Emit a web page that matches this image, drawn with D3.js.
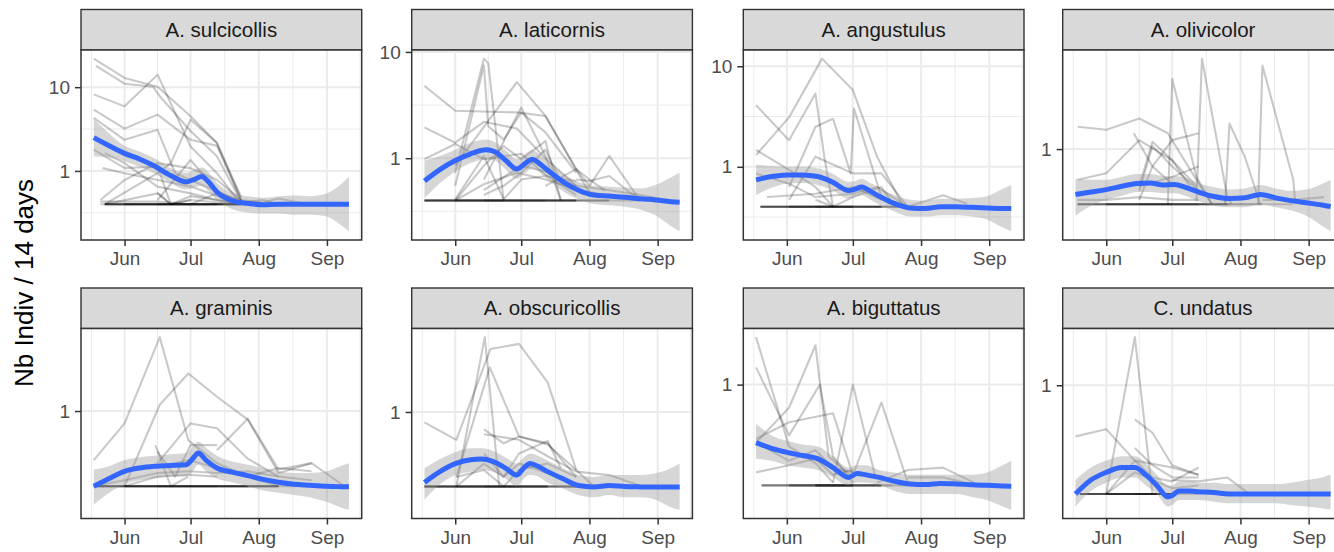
<!DOCTYPE html>
<html>
<head>
<meta charset="utf-8">
<script src="https://cdn.jsdelivr.net/npm/d3@7"></script>
<style>
  html, body { margin: 0; padding: 0; background: #fff; }
  svg { display: block; font-family: "Liberation Sans", Arial, Helvetica, sans-serif; }
</style>
</head>
<body>
<svg id="chart" width="1334" height="552"></svg>
<script>
// ---- Data ------------------------------------------------------------
// Days are day-of-year (2019); values are individuals per 14 days.
// Zero catches are plotted at the floor value 0.4.

const speciesNames = ["A. sulcicollis", "A. laticornis", "A. angustulus", "A. olivicolor",
                      "A. graminis", "A. obscuricollis", "A. biguttatus", "C. undatus"];

const monthStarts = [152, 182, 213, 244];
const monthLabels = ["Jun", "Jul", "Aug", "Sep"];
const decadeTicks = [0.1, 1, 10, 100];
const yAxisTitle = "Nb Indiv / 14 days";

// per-site trajectories: [day, value]
const sulcicollisSites = [
  [[138,21.9],[152,12.9],[167,10.1],[182,4.5],[194,2.15],[205,0.45]],
  [[139,17.9],[152,11.0],[165,10.1],[168,7.8],[182,3.0],[194,1.5],[205,0.43]],
  [[138,8.2],[152,5.9],[167,14.1],[182,1.96],[194,0.94],[205,0.4]],
  [[138,5.4],[152,3.2],[167,4.7],[182,2.35],[194,2.0],[205,0.45]],
  [[138,4.3],[152,2.35],[167,3.1],[175,0.94],[182,0.78],[205,0.43]],
  [[138,1.8],[152,1.08],[167,1.13],[173,0.4],[182,0.45]],
  [[143,1.63],[152,1.24],[167,0.65],[182,0.54],[194,0.45],[205,0.4]],
  [[142,1.08],[152,0.94],[167,0.78],[182,0.65],[205,0.4]],
  [[143,0.4],[167,0.94],[173,1.24],[182,4.1],[194,2.15],[205,0.49]],
  [[141,0.45],[152,0.78],[167,1.24],[182,1.08],[194,0.78],[205,0.45]],
  [[143,0.4],[167,0.54],[173,0.4],[182,0.45],[205,0.4]],
  [[141,0.43],[167,0.43],[182,0.4],[194,0.54],[205,0.45],[215,0.42],[222,0.47],[229,0.43],[236,0.4]],
  [[167,0.45],[182,1.35],[194,0.58],[205,0.4]],
  [[167,0.55],[173,0.4],[182,0.5],[194,0.45],[205,0.42],[215,0.45],[222,0.4]],
  [[143,0.4],[152,0.4],[167,0.4],[173,0.4],[182,0.4],[194,0.4],[205,0.4]],
  [[143,0.4],[167,0.4],[182,0.4],[205,0.4]],
  [[141,0.4],[152,0.4],[167,0.4],[173,0.4],[194,0.4]],
  [[143,0.4],[182,0.4],[205,0.4],[222,0.4]],
  [[152,0.4],[167,0.4],[182,0.4],[194,0.4],[205,0.4]],
  [[143,0.4],[152,0.4],[173,0.4],[194,0.4],[205,0.4]],
  [[167,0.4],[173,0.4],[182,0.4],[205,0.4]],
  [[143,0.4],[167,0.4],[194,0.4]],
  [[152,0.4],[173,0.4],[194,0.4],[205,0.4],[215,0.4]]
];
const laticornisSites = [
  [[138,4.8],[152,2.8],[180,2.7],[193,2.5],[207,0.79],[213,0.63],[220,0.5]],
  [[138,1.95],[152,1.4],[165,2.2],[180,1.9],[193,1.0],[207,0.55]],
  [[138,0.98],[152,1.36],[165,0.98],[182,1.1],[193,0.7],[207,0.45]],
  [[152,0.73],[165,8.65],[167,7.8],[174,0.4]],
  [[152,0.55],[165,7.5],[167,2.0],[174,1.5],[182,2.7],[193,1.75],[207,0.73]],
  [[152,0.85],[180,5.2],[193,2.5],[213,0.47]],
  [[165,0.63],[182,3.0],[193,1.05],[200,0.4]],
  [[138,0.4],[152,0.4],[165,0.85],[174,1.3],[182,0.98],[193,1.45],[200,0.4]],
  [[193,0.55],[207,0.79],[213,0.55],[222,1.05],[236,0.4]],
  [[207,0.63],[213,0.61],[222,0.68],[236,0.4]],
  [[152,0.4],[165,0.57],[180,0.73],[193,0.63],[207,0.51],[222,0.44],[236,0.4]],
  [[152,0.41],[165,1.05],[174,0.41],[182,0.63],[193,0.68],[207,0.61]],
  [[165,0.45],[174,0.55],[182,0.73],[193,1.2],[200,0.6],[207,0.5]],
  [[165,0.5],[182,0.85],[193,0.75],[207,0.55],[222,0.5],[236,0.45],[250,0.4]],
  [[138,0.4],[152,0.4],[165,0.4],[182,0.4],[193,0.4],[207,0.4]],
  [[138,0.4],[165,0.4],[174,0.4],[193,0.4],[207,0.4]],
  [[138,0.4],[152,0.4],[182,0.4],[207,0.4],[222,0.4]],
  [[152,0.4],[165,0.4],[182,0.4],[193,0.4],[207,0.4],[236,0.4]],
  [[138,0.4],[152,0.4],[165,0.4],[174,0.4]],
  [[138,0.4],[152,0.4],[174,0.4],[193,0.4]],
  [[152,0.4],[165,0.4],[182,0.4],[207,0.4]],
  [[165,0.4],[182,0.4],[193,0.4],[222,0.4]]
];
const angustulusSites = [
  [[138,1.31],[153,3.1],[168,11.9],[182,5.8],[193,1.26],[205,0.4]],
  [[138,4.1],[153,1.84],[165,5.35],[169,1.26],[173,0.4]],
  [[153,0.63],[165,2.5],[173,3.0],[181,0.86],[182.5,3.8],[195,0.5],[207,0.4]],
  [[138,1.47],[153,0.93],[165,0.63],[173,0.4]],
  [[153,0.47],[165,1.26],[182,0.86],[195,0.86],[207,0.4]],
  [[138,0.86],[153,0.68],[165,0.5],[182,0.54],[193,0.63],[207,0.4]],
  [[143,0.5],[165,0.54],[182,0.63],[195,0.47]],
  [[207,0.4],[223,0.52],[234,0.43]],
  [[165,0.47],[173,0.4],[182,0.5],[195,0.63],[199,0.47]],
  [[140,0.4],[153,0.4],[165,0.4],[182,0.4],[195,0.4],[207,0.4]],
  [[140,0.4],[165,0.4],[173,0.4],[195,0.4]],
  [[153,0.4],[168,0.4],[182,0.4],[207,0.4],[223,0.4]],
  [[140,0.4],[153,0.4],[182,0.4],[195,0.4]],
  [[140,0.4],[153,0.4],[165,0.4],[173,0.4],[182,0.4]],
  [[153,0.4],[165,0.4],[182,0.4],[195,0.4]],
  [[165,0.4],[173,0.4],[182,0.4],[195,0.4],[207,0.4]],
  [[140,0.4],[165,0.4],[182,0.4]]
];
const olivicolorSites = [
  [[139,1.45],[152,1.38],[167,1.66],[180,1.3],[193,0.6],[200,0.4]],
  [[180,0.4],[182,3.2],[193,0.63],[200,0.4]],
  [[193,0.42],[195.5,4.49],[207,0.45],[209,0.4]],
  [[206,0.4],[208,1.53],[215,0.88],[222,0.4]],
  [[221,0.4],[223,4.0],[237,0.6],[238,0.4]],
  [[139,0.6],[152,0.67],[167,1.16],[182,0.83],[193,0.54]],
  [[164.5,1.3],[173,0.75],[182,0.56],[193,0.5]],
  [[167,0.54],[173,1.13],[182,0.83],[190,0.54]],
  [[167,0.43],[173,0.75],[182,1.16],[194,1.3]],
  [[167,0.54],[182,0.63],[194,0.75]],
  [[139,0.43],[152,0.43],[167,0.45],[182,0.43],[194,0.43]],
  [[223,0.43],[237,0.43],[251,0.45]],
  [[167,0.5],[173,1.05],[182,0.75],[194,0.5],[207,0.42]],
  [[139,0.4],[152,0.4],[167,0.4],[182,0.4],[194,0.4],[207,0.4]],
  [[139,0.4],[167,0.4],[182,0.4],[208,0.4],[223,0.4]],
  [[152,0.4],[167,0.4],[182,0.4],[194,0.4],[237,0.4]],
  [[139,0.4],[152,0.4],[182,0.4],[194,0.4]],
  [[139,0.4],[152,0.4],[167,0.4],[173,0.4],[182,0.4]],
  [[167,0.4],[173,0.4],[182,0.4],[194,0.4],[207,0.4]],
  [[152,0.4],[167,0.4],[182,0.4],[208,0.4]]
];
const graminisSites = [
  [[138,0.55],[152,0.86],[168,2.46],[181,0.7],[194,0.53],[208,0.45],[222,0.4]],
  [[152,0.4],[168,1.08],[181,1.58],[194,1.19],[208,0.9],[222,0.47],[237,0.53]],
  [[167,0.53],[182,0.86],[194,0.81],[208,0.56],[222,0.45]],
  [[194,0.62],[208,0.91],[222,0.49],[237,0.53],[252,0.4]],
  [[167,0.61],[175,0.45],[182,0.66],[194,0.66]],
  [[166,0.66],[173,0.4],[181,0.45]],
  [[138,0.4],[152,0.43],[167,0.47],[181,0.48],[194,0.47],[208,0.48],[222,0.45],[237,0.43]],
  [[152,0.4],[167,0.45],[181,0.46],[194,0.45]],
  [[167,0.5],[181,0.55],[194,0.5],[208,0.45],[222,0.5],[237,0.48]],
  [[138,0.4],[152,0.4],[167,0.4],[181,0.4],[194,0.4],[208,0.4]],
  [[138,0.4],[167,0.4],[181,0.4],[208,0.4],[222,0.4]],
  [[152,0.4],[167,0.4],[194,0.4],[208,0.4]],
  [[138,0.4],[152,0.4],[181,0.4],[194,0.4]],
  [[138,0.4],[152,0.4],[167,0.4],[181,0.4],[194,0.4],[208,0.4],[222,0.4]],
  [[152,0.4],[167,0.4],[181,0.4],[208,0.4],[222,0.4]],
  [[167,0.4],[181,0.4],[194,0.4],[208,0.4],[222,0.4],[237,0.4]],
  [[138,0.4],[167,0.4],[194,0.4],[222,0.4]]
];
const obscuricollisSites = [
  [[138,0.88],[152.5,0.71],[168,2.17],[181,2.31],[194,1.44],[207,0.49],[215,0.4]],
  [[152.5,0.45],[167.7,1.73],[181,0.74],[194,0.68],[207,0.45]],
  [[152.5,0.4],[165.4,2.51],[172,0.4]],
  [[165,0.81],[174,0.68],[181,0.74],[194,0.67],[207,0.49]],
  [[165,0.76],[181,0.71],[194,0.58],[207,0.48],[222,0.46],[237,0.4]],
  [[152.5,0.45],[165,0.49],[174,0.4],[181,0.49],[194,0.53],[207,0.45]],
  [[138,0.4],[152.5,0.4],[165,0.53],[174,0.45],[181,0.53],[194,0.47]],
  [[165,0.6],[174,0.45],[181,0.6],[194,0.7],[200,0.5]],
  [[138,0.4],[152.5,0.4],[165,0.4],[181,0.4],[194,0.4],[207,0.4]],
  [[138,0.4],[165,0.4],[174,0.4],[194,0.4]],
  [[152.5,0.4],[165,0.4],[181,0.4],[207,0.4]],
  [[138,0.4],[152.5,0.4],[174,0.4],[181,0.4]],
  [[138,0.4],[152.5,0.4],[165,0.4],[174,0.4],[181,0.4],[194,0.4]],
  [[152.5,0.4],[165,0.4],[181,0.4],[194,0.4],[207,0.4]],
  [[165,0.4],[174,0.4],[181,0.4],[194,0.4]],
  [[138,0.4],[165,0.4],[181,0.4],[207,0.4]]
];
const biguttatusSites = [
  [[138,1.54],[153,0.57],[165,0.49],[173,0.41]],
  [[138,1.17],[153,0.63],[167,1.0],[173,0.52],[182,0.41]],
  [[138,0.59],[153,0.81],[165,1.43],[171,0.52],[182,0.43]],
  [[138,0.61],[153,0.71],[173,0.77],[182,0.44]],
  [[173,0.41],[182,1.0],[192,0.44]],
  [[182,0.44],[195,0.85],[207,0.41]],
  [[138,0.45],[153,0.48],[165,0.51],[173,0.44],[182,0.46]],
  [[193,0.41],[207,0.46],[223,0.47],[237,0.41]],
  [[207,0.43],[223,0.43],[233,0.41]],
  [[138,0.59],[153,0.5],[165,0.55],[173,0.47],[182,0.45]],
  [[140.5,0.4],[153,0.4],[165,0.4],[173,0.4],[182,0.4],[195,0.4]],
  [[140.5,0.4],[165,0.4],[182,0.4],[200,0.4]],
  [[153,0.4],[165,0.4],[173,0.4],[182,0.4]],
  [[165,0.4],[173,0.4],[182,0.4],[195,0.4]],
  [[140.5,0.4],[153,0.4],[165,0.4],[182,0.4]],
  [[165,0.4],[173,0.4],[182,0.4],[195,0.4],[207,0.4]],
  [[153,0.4],[173,0.4],[182,0.4]],
  [[165,0.4],[182,0.4],[195,0.4]]
];
const undatusSites = [
  [[138,0.65],[152,0.69],[165,0.53],[182,0.5],[194,0.47]],
  [[152,0.4],[165,1.5],[173,0.4]],
  [[165,0.75],[173,0.67],[182,0.51],[194,0.47]],
  [[165,0.59],[173,0.51],[182,0.46],[194,0.46]],
  [[152,0.4],[165,0.53],[173,0.46],[182,0.445],[194,0.5]],
  [[182,0.45],[194,0.445],[207,0.46],[217,0.4]],
  [[152,0.4],[165,0.48],[182,0.42],[194,0.43]],
  [[140,0.4],[152,0.4],[165,0.4],[182,0.4]],
  [[140,0.4],[165,0.4],[173,0.4],[182,0.4]],
  [[152,0.4],[165,0.4],[182,0.4]],
  [[140,0.4],[152,0.4],[173,0.4],[182,0.4]],
  [[140,0.4],[152,0.4],[165,0.4],[173,0.4],[182,0.4]],
  [[152,0.4],[165,0.4],[173,0.4],[182,0.4]],
  [[140,0.4],[165,0.4],[182,0.4]],
  [[165,0.4],[173,0.4],[182,0.4],[194,0.4]]
];

// loess fit with confidence band: [day, fit, lower, upper]
const sulcicollisSmooth = [
  [138,2.5,1.5,4.2],[145,2.0,1.45,2.8],[152,1.62,1.3,2.0],[159,1.38,1.12,1.7],
  [166,1.13,0.92,1.4],[173,0.88,0.72,1.08],[180,0.74,0.6,0.95],[184,0.8,0.64,1.05],
  [187,0.86,0.66,1.1],[190,0.75,0.58,0.98],[194,0.56,0.45,0.72],[201,0.44,0.35,0.55],
  [208,0.41,0.32,0.5],[215,0.395,0.31,0.48],[222,0.4,0.31,0.5],[229,0.4,0.3,0.51],
  [236,0.4,0.3,0.5],[243,0.4,0.29,0.53],[250,0.4,0.23,0.68],[254,0.4,0.19,0.85]
];
const laticornisSmooth = [
  [138,0.61,0.42,0.95],[145,0.78,0.58,1.05],[152,0.95,0.75,1.2],[159,1.1,0.9,1.4],
  [166,1.2,0.98,1.5],[170,1.15,0.95,1.42],[175,0.95,0.78,1.18],[180,0.79,0.64,0.98],
  [184,0.9,0.73,1.1],[187,0.98,0.8,1.2],[190,0.9,0.74,1.1],[194,0.77,0.63,0.94],
  [201,0.6,0.49,0.72],[208,0.5,0.41,0.6],[215,0.45,0.37,0.55],[222,0.44,0.36,0.54],
  [229,0.43,0.35,0.53],[236,0.415,0.33,0.52],[243,0.405,0.29,0.56],[250,0.39,0.23,0.66],
  [254,0.385,0.205,0.73]
];
const angustulusSmooth = [
  [138,0.74,0.52,1.05],[145,0.8,0.62,1.02],[152,0.83,0.68,1.0],[159,0.83,0.69,1.0],
  [166,0.8,0.66,0.97],[173,0.7,0.58,0.85],[180,0.58,0.48,0.71],[183,0.6,0.5,0.72],
  [186,0.63,0.52,0.76],[190,0.57,0.47,0.69],[194,0.51,0.42,0.62],[201,0.43,0.36,0.52],
  [208,0.39,0.32,0.47],[215,0.385,0.32,0.46],[222,0.4,0.33,0.48],[229,0.4,0.33,0.48],
  [236,0.395,0.32,0.49],[243,0.39,0.3,0.51],[250,0.385,0.25,0.6],[254,0.385,0.228,0.66]
];
const olivicolorSmooth = [
  [138,0.47,0.33,0.61],[145,0.49,0.39,0.6],[152,0.51,0.43,0.6],[159,0.54,0.46,0.63],
  [166,0.565,0.49,0.66],[172,0.57,0.49,0.66],[178,0.55,0.48,0.64],[183,0.555,0.48,0.64],
  [188,0.53,0.46,0.62],[194,0.49,0.42,0.57],[201,0.455,0.39,0.53],[208,0.44,0.38,0.51],
  [215,0.445,0.38,0.52],[222,0.47,0.4,0.55],[229,0.445,0.38,0.52],[236,0.425,0.36,0.5],
  [243,0.41,0.33,0.51],[250,0.395,0.28,0.56],[254,0.385,0.255,0.6]
];
const graminisSmooth = [
  [138,0.4,0.32,0.49],[145,0.44,0.37,0.51],[152,0.48,0.41,0.55],[159,0.5,0.43,0.57],
  [166,0.51,0.44,0.58],[173,0.515,0.45,0.59],[180,0.52,0.45,0.6],[183,0.56,0.48,0.65],
  [185.5,0.6,0.52,0.69],[189,0.55,0.48,0.64],[194,0.5,0.44,0.58],[201,0.475,0.42,0.54],
  [208,0.455,0.4,0.52],[215,0.435,0.38,0.5],[222,0.42,0.37,0.48],[229,0.41,0.36,0.47],
  [236,0.405,0.35,0.47],[244,0.4,0.33,0.48],[250,0.398,0.31,0.51],[254,0.397,0.3,0.53]
];
const obscuricollisSmooth = [
  [138,0.42,0.34,0.5],[145,0.48,0.41,0.56],[152,0.53,0.46,0.61],[159,0.555,0.48,0.64],
  [164,0.56,0.49,0.64],[169,0.545,0.48,0.62],[175,0.5,0.44,0.57],[180,0.46,0.4,0.53],
  [183,0.5,0.44,0.57],[186,0.53,0.46,0.6],[190,0.51,0.45,0.58],[194,0.48,0.42,0.55],
  [201,0.44,0.39,0.5],[208,0.405,0.36,0.46],[215,0.398,0.35,0.45],[222,0.405,0.36,0.46],
  [229,0.4,0.35,0.46],[236,0.398,0.35,0.46],[243,0.397,0.34,0.47],[250,0.397,0.31,0.5],
  [254,0.397,0.3,0.53]
];
const biguttatusSmooth = [
  [138,0.59,0.51,0.7],[145,0.56,0.5,0.63],[152,0.54,0.48,0.6],[159,0.525,0.47,0.58],
  [166,0.51,0.46,0.57],[173,0.47,0.43,0.52],[180,0.43,0.4,0.47],[184,0.445,0.41,0.48],
  [188,0.44,0.41,0.48],[194,0.43,0.4,0.46],[201,0.415,0.38,0.45],[208,0.405,0.37,0.44],
  [215,0.403,0.37,0.44],[222,0.407,0.37,0.44],[229,0.405,0.37,0.44],[236,0.402,0.36,0.44],
  [243,0.4,0.35,0.45],[250,0.398,0.33,0.48],[254,0.397,0.32,0.5]
];
const undatusSmooth = [
  [138,0.4,0.36,0.45],[145,0.45,0.41,0.5],[152,0.48,0.44,0.53],[159,0.5,0.46,0.55],
  [165,0.5,0.46,0.55],[170,0.47,0.43,0.52],[175,0.43,0.4,0.47],[180,0.39,0.36,0.43],
  [182,0.395,0.365,0.43],[185,0.41,0.38,0.445],[190,0.41,0.38,0.445],[194,0.408,0.38,0.44],
  [201,0.405,0.375,0.44],[208,0.4,0.37,0.435],[215,0.4,0.37,0.435],[222,0.4,0.37,0.435],
  [229,0.4,0.37,0.435],[236,0.4,0.365,0.44],[243,0.4,0.36,0.45],[250,0.4,0.355,0.46],
  [254,0.4,0.35,0.47]
];

const siteSeries = [sulcicollisSites, laticornisSites, angustulusSites, olivicolorSites,
                    graminisSites, obscuricollisSites, biguttatusSites, undatusSites];
const smoothSeries = [sulcicollisSmooth, laticornisSmooth, angustulusSmooth, olivicolorSmooth,
                      graminisSmooth, obscuricollisSmooth, biguttatusSmooth, undatusSmooth];

// ---- Layout ----------------------------------------------------------
const colLeft = [81, 411.7, 743.3, 1062.7];
const stripTop = [9.5, 288];
const panelW = 280.7, stripH = 40.5, panelH = 190;

const svg = d3.select("#chart");
svg.append("rect").attr("width", 1334).attr("height", 552).attr("fill", "#fff");

const toDate = d => new Date(Date.UTC(2019, 0, 1) + (d - 1) * 864e5);

// shared x scale with 5% expansion on each side
const allDays = smoothSeries.flat().map(d => d[0]).concat(siteSeries.flat(2).map(d => d[0]));
const dMin = d3.min(allDays), dMax = d3.max(allDays);
const dPad = (dMax - dMin) * 0.05;
const x = d3.scaleUtc().domain([toDate(dMin - dPad), toDate(dMax + dPad)]).range([0, panelW]);

const majorDays = monthStarts;
const stepDays = majorDays[1] - majorDays[0];
const xMinorDays = [];
const extMajors = [majorDays[0] - stepDays, ...majorDays, majorDays[majorDays.length - 1] + stepDays];
for (let i = 0; i < extMajors.length - 1; i++) xMinorDays.push((extMajors[i] + extMajors[i + 1]) / 2);
const xMinorVisible = xMinorDays.filter(d => d >= dMin - dPad && d <= dMax + dPad);

const gridCol = "#EBEBEB", borderCol = "#333333";

speciesNames.forEach((name, i) => {
  const col = i % 4, row = Math.floor(i / 4);
  const g = svg.append("g").attr("transform", `translate(${colLeft[col]},${stripTop[row]})`);

  // strip
  g.append("rect").attr("x", 0).attr("y", 0).attr("width", panelW).attr("height", stripH)
    .attr("fill", "#D9D9D9").attr("stroke", borderCol).attr("stroke-width", 1.4);
  g.append("text").attr("x", panelW / 2).attr("y", stripH / 2 + 7)
    .attr("text-anchor", "middle").attr("font-size", 20.5).attr("fill", "#1A1A1A").text(name);

  const p = g.append("g").attr("transform", `translate(0,${stripH})`);
  p.append("rect").attr("width", panelW).attr("height", panelH).attr("fill", "#fff");

  const sites = siteSeries[i], smooth = smoothSeries[i];
  const vals = sites.flat().map(d => d[1]).concat(smooth.map(d => d[2]), smooth.map(d => d[3]));
  const lMin = Math.log10(d3.min(vals)), lMax = Math.log10(d3.max(vals));
  const lPad = (lMax - lMin) * 0.05;
  const y = d3.scaleLog().domain([10 ** (lMin - lPad), 10 ** (lMax + lPad)]).range([panelH, 0]);
  const [yLo, yHi] = y.domain();

  const majorY = decadeTicks.filter(v => v >= yLo && v <= yHi);
  let minorY = [];
  if (majorY.length >= 2) {
    const lm = majorY.map(Math.log10);
    const ext = [lm[0] - 1, ...lm, lm[lm.length - 1] + 1];
    for (let k = 0; k < ext.length - 1; k++) minorY.push(10 ** ((ext[k] + ext[k + 1]) / 2));
    minorY = minorY.filter(v => v >= yLo && v <= yHi);
  }

  // grid
  const grid = p.append("g");
  grid.selectAll(".ymin").data(minorY).join("line")
    .attr("x1", 0).attr("x2", panelW).attr("y1", d => y(d)).attr("y2", d => y(d))
    .attr("stroke", gridCol).attr("stroke-width", 1);
  grid.selectAll(".xmin").data(xMinorVisible).join("line")
    .attr("y1", 0).attr("y2", panelH).attr("x1", d => x(toDate(d))).attr("x2", d => x(toDate(d)))
    .attr("stroke", gridCol).attr("stroke-width", 1);
  grid.selectAll(".ymaj").data(majorY).join("line")
    .attr("x1", 0).attr("x2", panelW).attr("y1", d => y(d)).attr("y2", d => y(d))
    .attr("stroke", gridCol).attr("stroke-width", 2);
  grid.selectAll(".xmaj").data(majorDays).join("line")
    .attr("y1", 0).attr("y2", panelH).attr("x1", d => x(toDate(d))).attr("x2", d => x(toDate(d)))
    .attr("stroke", gridCol).attr("stroke-width", 2);

  const clipId = "clip" + i;
  p.append("clipPath").attr("id", clipId).append("rect").attr("width", panelW).attr("height", panelH);
  const plot = p.append("g").attr("clip-path", `url(#${clipId})`);

  // site trajectories
  const siteLine = d3.line().x(d => x(toDate(d[0]))).y(d => y(d[1]));
  plot.selectAll(".site").data(sites).join("path")
    .attr("d", siteLine).attr("fill", "none").attr("stroke", "#000")
    .attr("stroke-opacity", 0.21).attr("stroke-width", 2.1).attr("stroke-linejoin", "round");

  // confidence band and fit
  const band = d3.area().x(d => x(toDate(d[0]))).y0(d => y(d[2])).y1(d => y(d[3]))
    .curve(d3.curveMonotoneX);
  plot.append("path").datum(smooth).attr("d", band).attr("fill", "#999999").attr("fill-opacity", 0.4);
  const fit = d3.line().x(d => x(toDate(d[0]))).y(d => y(d[1])).curve(d3.curveMonotoneX);
  plot.append("path").datum(smooth).attr("d", fit).attr("fill", "none")
    .attr("stroke", "#3366FF").attr("stroke-width", 5).attr("stroke-linejoin", "round");

  // border
  p.append("rect").attr("width", panelW).attr("height", panelH).attr("fill", "none")
    .attr("stroke", borderCol).attr("stroke-width", 1.5);

  // axes
  const yAxis = p.append("g").call(d3.axisLeft(y).tickValues(majorY).tickFormat(d3.format("~g"))
    .tickSize(6).tickPadding(5));
  const xAxis = p.append("g").attr("transform", `translate(0,${panelH})`)
    .call(d3.axisBottom(x).tickValues(majorDays.map(toDate))
      .tickFormat((d, k) => monthLabels[k]).tickSize(6).tickPadding(6));
  [yAxis, xAxis].forEach(ax => {
    ax.select(".domain").remove();
    ax.attr("font-family", null).attr("font-size", 19);
    ax.selectAll(".tick line").attr("stroke", borderCol).attr("stroke-width", 1.5);
    ax.selectAll(".tick text").attr("fill", "#4D4D4D");
  });
});

// y axis title
svg.append("text").attr("transform", "translate(33,283) rotate(-90)")
  .attr("text-anchor", "middle").attr("font-size", 26).attr("fill", "#000").text(yAxisTitle);
</script>
</body>
</html>
